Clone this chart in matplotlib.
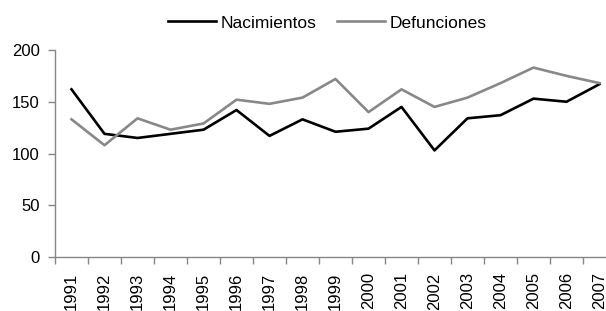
import matplotlib
matplotlib.use('Agg')
import matplotlib.pyplot as plt

# datos
anios = [str(a) for a in range(1991, 2008)]
nacimientos = [162, 119, 115, 119, 123, 142, 117, 133, 121, 124, 145, 103, 134, 137, 153, 150, 167]
defunciones = [133, 108, 134, 123, 129, 152, 148, 154, 172, 140, 162, 145, 154, 168, 183, 175, 168]

plt.rcParams['font.family'] = ['Liberation Sans', 'DejaVu Sans']

fig = plt.figure(figsize=(6.06, 3.11), dpi=100)
# el area del grafico sigue mas alla del borde derecho, como en el original
ax = fig.add_axes([55 / 606, 54 / 311, 561 / 606, 207 / 311])

x = list(range(len(anios)))
ax.plot(x, nacimientos, color='black', lw=1.9, label='Nacimientos')
ax.plot(x, defunciones, color='#888888', lw=1.9, label='Defunciones')

ax.set_xlim(-0.5, len(anios) - 0.5)
ax.set_ylim(0, 200)
ax.set_yticks([0, 50, 100, 150, 200])

# marcas entre categorias, etiquetas en el centro
ax.set_xticks([i - 0.5 for i in range(len(anios) + 1)])
ax.set_xticklabels([])
ax.set_xticks(x, minor=True)
ax.set_xticklabels(anios, minor=True, rotation=90)
ax.tick_params(axis='x', which='major', length=5, width=1, color='#868686', direction='out')
ax.tick_params(axis='x', which='minor', length=0, pad=11, labelsize=12)
ax.tick_params(axis='y', length=5, width=1, color='#868686', direction='out', pad=6, labelsize=12)

for s in ['top', 'right']:
    ax.spines[s].set_visible(False)
for s in ['left', 'bottom']:
    ax.spines[s].set_color('#868686')
    ax.spines[s].set_linewidth(1)

fig.legend(loc='center', bbox_to_anchor=(327.5 / 606, 1 - 23 / 311), ncol=2,
           frameon=False, fontsize=12.5, handlelength=2.76, handletextpad=0.3,
           columnspacing=1.15)

fig.savefig('out.png', dpi=100)
